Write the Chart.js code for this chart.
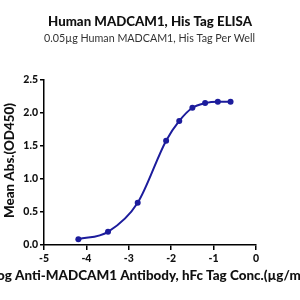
<!DOCTYPE html>
<html>
<head>
<meta charset="utf-8">
<script src="https://cdn.jsdelivr.net/npm/chart.js@4"></script>
<style>
  html, body { margin: 0; padding: 0; background: #fff; }
  #wrap { width: 300px; height: 300px; }
</style>
</head>
<body>
<div id="wrap"><canvas id="mainChart" width="300" height="300"></canvas></div>
<script>
  // values
  const logConc = [-4.19, -3.49, -2.79, -2.12, -1.81, -1.50, -1.20, -0.90, -0.60];
  const meanAbs = [0.086, 0.20, 0.64, 1.58, 1.88, 2.08, 2.15, 2.17, 2.17];
  const xTicks = [-5, -4, -3, -2, -1, 0];
  const yTicks = [0.0, 0.5, 1.0, 1.5, 2.0, 2.5];

  const titleText = 'Human MADCAM1, His Tag ELISA';
  const subtitleText = '0.05µg Human MADCAM1, His Tag Per Well';
  const xTitle = 'Log Anti-MADCAM1 Antibody, hFc Tag Conc.(µg/ml)';
  const yTitle = 'Mean Abs.(OD450)';

  const lineColor = '#1c1c9c';
  const FONT = 'Lato, "Noto Sans", sans-serif';

  const points = logConc.map((x, i) => ({ x, y: meanAbs[i] }));

  // pick a font size so that text spans the wanted width
  function fitFont(ctx, text, weight, width) {
    ctx.font = `${weight} 20px ${FONT}`;
    const size = 20 * width / ctx.measureText(text).width;
    return `${weight} ${size.toFixed(2)}px ${FONT}`;
  }

  // titles drawn by hand: the reference x title runs past both canvas edges,
  // which the built-in scale title would squeeze to the axis width
  const textPlugin = {
    id: 'textPlugin',
    afterDraw(chart) {
      const { ctx } = chart;
      ctx.save();
      ctx.textBaseline = 'alphabetic';

      ctx.fillStyle = '#111';
      ctx.textAlign = 'center';
      ctx.font = fitFont(ctx, titleText, '900', 204);
      ctx.fillText(titleText, 150, 26);

      ctx.fillStyle = '#333';
      ctx.font = fitFont(ctx, subtitleText, 'normal', 211);
      ctx.fillText(subtitleText, 149.5, 41.5);

      // x title: "Anti-...(µg/m" covers x 15..300 in the reference
      ctx.fillStyle = '#111';
      ctx.font = fitFont(ctx, 'Anti-MADCAM1 Antibody, hFc Tag Conc.(µg/m', '900', 286);
      ctx.textAlign = 'left';
      ctx.fillText(xTitle, 15 - ctx.measureText('Log ').width, 280);

      // y title, rotated
      ctx.font = fitFont(ctx, yTitle, '900', 115);
      ctx.translate(10, 160.5);
      ctx.rotate(-Math.PI / 2);
      ctx.textAlign = 'center';
      ctx.textBaseline = 'middle';
      ctx.fillText(yTitle, 0, 0);
      ctx.restore();
    }
  };

  const ctx = document.getElementById('mainChart').getContext('2d');
  new Chart(ctx, {
    type: 'line',
    data: {
      datasets: [{
        data: points,
        borderColor: lineColor,
        backgroundColor: lineColor,
        borderWidth: 2,
        pointRadius: 3,
        pointBackgroundColor: lineColor,
        pointBorderWidth: 0,
        cubicInterpolationMode: 'monotone'
      }]
    },
    plugins: [textPlugin],
    options: {
      responsive: false,
      animation: false,
      layout: { padding: { left: 0, right: 44, top: 80, bottom: 0 } },
      plugins: {
        legend: { display: false },
        tooltip: { enabled: false },
        title: { display: false },
        subtitle: { display: false }
      },
      scales: {
        x: {
          type: 'linear',
          min: -5,
          max: 0,
          afterBuildTicks: (scale) => { scale.ticks = xTicks.map(v => ({ value: v })); },
          afterFit: (scale) => { scale.height = 55; },
          grid: {
            display: true,
            drawOnChartArea: false,
            drawTicks: true,
            tickLength: 5,
            color: '#000',
            lineWidth: 1.5
          },
          border: { color: '#000', width: 1.5 },
          ticks: {
            color: '#111',
            padding: 2,
            font: { family: FONT, size: 10.5, weight: '900' },
            callback: (v) => String(v)
          },
          title: { display: false }
        },
        y: {
          min: 0,
          max: 2.5,
          afterBuildTicks: (scale) => { scale.ticks = yTicks.map(v => ({ value: v })); },
          afterFit: (scale) => { scale.width = 44; },
          grid: {
            display: true,
            drawOnChartArea: false,
            drawTicks: true,
            tickLength: 4,
            color: '#000',
            lineWidth: 1.5
          },
          border: { color: '#000', width: 1.5 },
          ticks: {
            color: '#111',
            padding: 2,
            font: { family: FONT, size: 10.5, weight: '900' },
            callback: (v) => v.toFixed(1)
          },
          title: { display: false }
        }
      }
    }
  });
</script>
</body>
</html>
